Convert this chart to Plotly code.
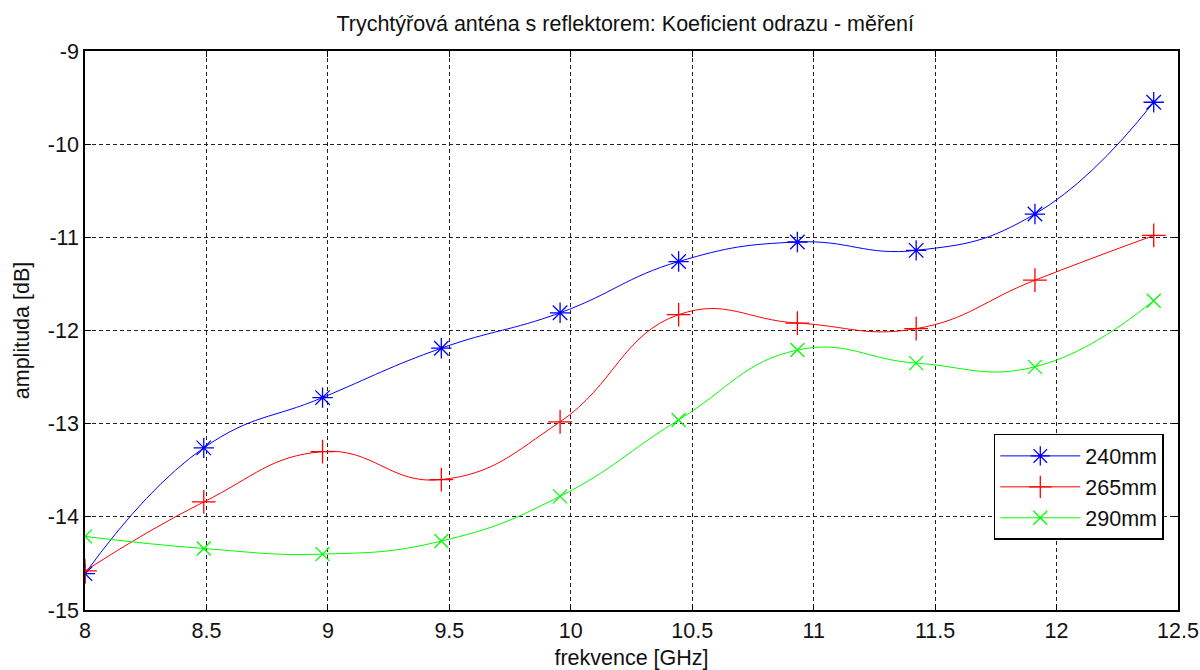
import numpy as np
import plotly.graph_objects as go

freq = [8.0, 8.489, 8.978, 9.467, 9.956, 10.444, 10.933, 11.422, 11.911, 12.4]
s240 = [-14.61, -13.26, -12.72, -12.19, -11.81, -11.26, -11.05, -11.14, -10.75, -9.55]
s265 = [-14.58, -13.84, -13.30, -13.60, -12.98, -11.83, -11.92, -11.98, -11.46, -10.98]
s290 = [-14.21, -14.34, -14.40, -14.26, -13.78, -12.96, -12.21, -12.35, -12.39, -11.68]

xticks = [8, 8.5, 9, 9.5, 10, 10.5, 11, 11.5, 12, 12.5]
xticklabels = ["8", "8.5", "9", "9.5", "10", "10.5", "11", "11.5", "12", "12.5"]
yticks = [-15, -14, -13, -12, -11, -10, -9]
yticklabels = ["-15", "-14", "-13", "-12", "-11", "-10", "-9"]

series = [
    ("240mm", s240, "#0000FF", "asterisk-open", 17),
    ("265mm", s265, "#FF0000", "cross-thin-open", 17),
    ("290mm", s290, "#00FF00", "x-thin-open", 14),
]

FONT = "Liberation Sans, Arial, sans-serif"
FS = 21.5
TXT = "#111111"
fig = go.Figure()
for i, (name, ys, col, sym, sz) in enumerate(series):
    fig.add_trace(go.Scatter(
        x=freq, y=ys, name=name, mode="lines+markers",
        line=dict(color=col, width=1, shape="spline", smoothing=1.3),
        marker=dict(symbol=sym, size=sz, color=col, line=dict(color=col, width=1.3)),
        legendgroup=name,
    ))

axis_common = dict(
    showline=True, linecolor="black", linewidth=1.5, mirror="ticks",
    ticks="inside", ticklen=6, tickcolor="black", tickwidth=1,
    showgrid=True, gridcolor="#222222", gridwidth=1, griddash="4px,3px",
    zeroline=False, tickfont=dict(family=FONT, size=FS, color=TXT),
    automargin=False,
)

fig.update_xaxes(range=[8, 12.5], tickvals=xticks, ticktext=xticklabels,
                 title=dict(text="frekvence [GHz]", font=dict(family=FONT, size=FS, color=TXT), standoff=8),
                 **axis_common)
fig.update_yaxes(range=[-15, -9], tickvals=yticks, ticktext=yticklabels,
                 title=dict(text="amplituda [dB]", font=dict(family=FONT, size=FS, color=TXT), standoff=12),
                 **axis_common)

fig.update_layout(
    width=1200, height=670,
    margin=dict(l=85, r=22, t=51, b=60),
    paper_bgcolor="white", plot_bgcolor="white",
    title=dict(text="Trychtýřová anténa s reflektorem: Koeficient odrazu - měření",
               x=0.521, xanchor="center", y=0.965, yanchor="middle",
               font=dict(family=FONT, size=FS, color=TXT)),
    legend=dict(x=0.987, xanchor="right", y=0.315, yanchor="top",
                bgcolor="white", bordercolor="black", borderwidth=1.5,
                font=dict(family=FONT, size=FS, color=TXT),
                tracegroupgap=0, traceorder="grouped", itemwidth=80),
    showlegend=True,
)

fig.write_html("out.html")
